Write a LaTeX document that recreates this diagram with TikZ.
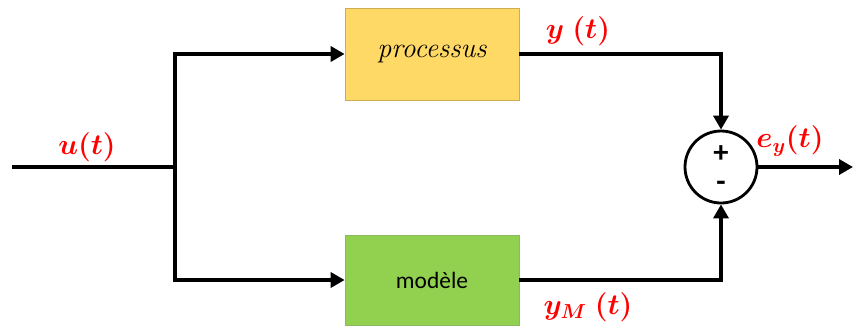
\documentclass[tikz,border=0pt]{standalone}
\usepackage{fontspec}
\newfontfamily\calibri{Carlito}
\usetikzlibrary{arrows.meta}
\definecolor{jaune}{HTML}{FFD966}
\definecolor{vert}{HTML}{92D050}
\definecolor{rouge}{HTML}{FF0000}

\begin{document}
\begin{tikzpicture}[x=0.03cm,y=-0.03cm,>={Triangle[length=0.42cm,width=0.45cm]},
line width=4.2pt,
bloc/.style={draw,line width=0.6pt,minimum width=5.22cm,minimum height=2.76cm,inner sep=0pt},
somme/.style={draw,circle,line width=2.4pt,minimum size=2.16cm,inner sep=0pt},
signe/.style={font=\calibri\bfseries\fontsize{26}{28}\selectfont},
signal/.style={text=rouge,font=\fontsize{23}{26}\selectfont\boldmath}]

\useasboundingbox (0,0) rectangle (853,325);

\node[bloc,fill=jaune,draw=jaune!80!black] (proc) at (432,54) {\fontsize{24}{27}\selectfont\itshape processus};
\node[bloc,fill=vert,draw=vert!70!gray,minimum height=2.7cm] (mod) at (432,280) {\calibri\fontsize{20}{24}\selectfont modèle};
\node[somme] (sum) at (721,167) {};
\node[signe] (plus) at (721,154) {+};
\node[signe] (moins) at (721,186) {-};

\coordinate (in) at (12,167);
\coordinate (junc) at (175,167);
\coordinate (out) at (853,167);

\node[signal] (u) at (87,147) {$u(t)$};
\node[signal] (y) at (578,31) {$y\ (t)$};
\node[signal] (ey) at (790,141) {$e_y(t)$};
\node[signal] (ym) at (588,307) {$y_M\ (t)$};

\draw (in) -- (junc);
\draw[->] (junc) |- (proc.west);
\draw[->] (junc) |- (mod.west);
\draw[->] (proc.east) -| (sum.north);
\draw[->] (mod.east) -| (sum.south);
\draw[->] (sum.east) -- (out);
\end{tikzpicture}
\end{document}
